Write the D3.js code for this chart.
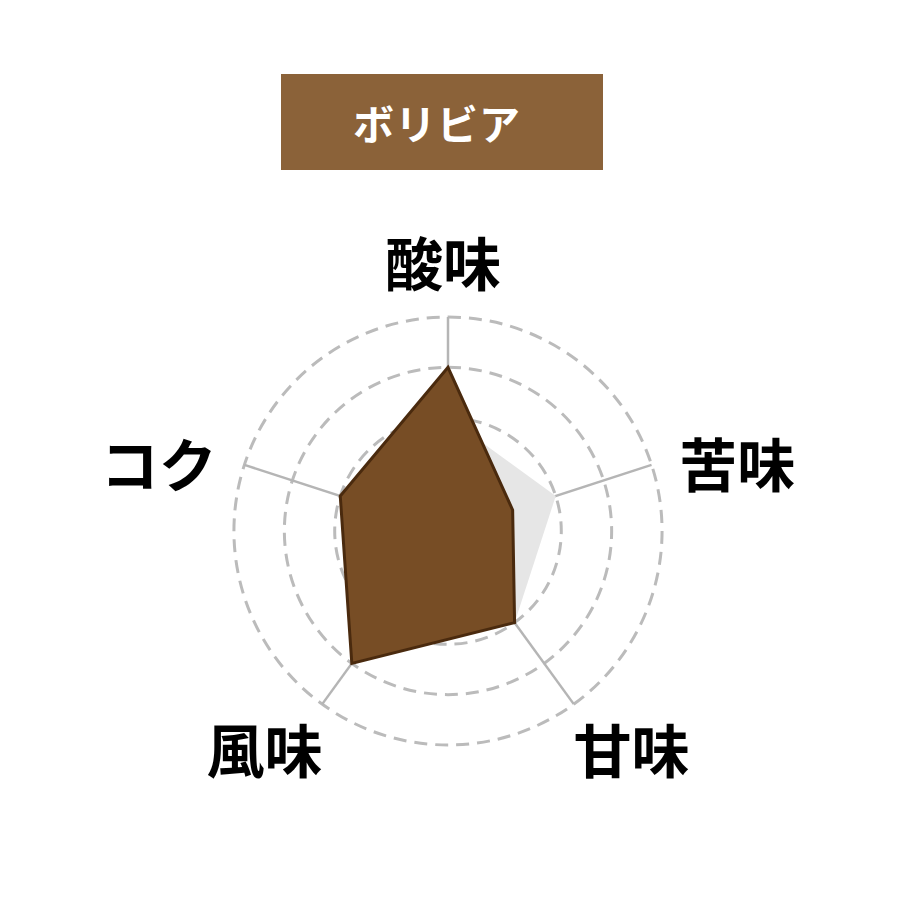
<!DOCTYPE html>
<html>
<head>
<meta charset="utf-8">
<script src="https://cdn.jsdelivr.net/npm/d3@7/dist/d3.min.js"></script>
<style>
  html, body { margin: 0; padding: 0; background: #ffffff; }
  svg { display: block; }
</style>
</head>
<body>
<svg id="chart" width="900" height="900"></svg>
<script>
// ---- data ----
const titleText = "ボリビア";
const categories = ["酸味", "苦味", "甘味", "風味", "コク"];
const boliviaValues = [4, 2.1, 3, 4, 3];
const averageValues = [3, 3, 3, 3, 3];
const ringLevels = [2, 3, 4, 5];
const scaleMin = 0.75;
const scaleMax = 5;

// ---- layout ----
const W = 900, H = 900;
const cx = 448, cy = 531, R = 214;
const svg = d3.select("#chart");
const font = "'Noto Sans CJK JP', 'Noto Sans', sans-serif";

const r = d3.scaleLinear().domain([scaleMin, scaleMax]).range([0, R]);
const step = 2 * Math.PI / categories.length;
const polar = (i, rad) => [cx + rad * Math.sin(i * step), cy - rad * Math.cos(i * step)];

// title box
const tb = { x: 281, y: 74, w: 322, h: 96 };
svg.append("rect")
  .attr("x", tb.x).attr("y", tb.y).attr("width", tb.w).attr("height", tb.h)
  .attr("fill", "#8b6239");
svg.append("text")
  .attr("x", tb.x + tb.w / 2 - 5).attr("y", tb.y + tb.h / 2)
  .attr("text-anchor", "middle").attr("dominant-baseline", "central")
  .attr("font-family", font).attr("font-weight", 700).attr("font-size", 41)
  .attr("letter-spacing", 1)
  .attr("fill", "#ffffff")
  .text(titleText);

const g = svg.append("g");

// rings (dashed circles starting at top, clockwise)
g.selectAll("path.ring").data(ringLevels).join("path")
  .attr("class", "ring")
  .attr("d", d => {
    const p = d3.path();
    const rr = r(d);
    p.moveTo(cx, cy - rr);
    p.arc(cx, cy, rr, -Math.PI / 2, 1.5 * Math.PI, false);
    return p.toString();
  })
  .attr("fill", "none")
  .attr("stroke", "#bbbbbb")
  .attr("stroke-width", 3)
  .attr("stroke-dasharray", "13,8");

// axis lines
g.selectAll("line.axis").data(categories).join("line")
  .attr("class", "axis")
  .attr("x1", cx).attr("y1", cy)
  .attr("x2", (d, i) => polar(i, r(scaleMax))[0])
  .attr("y2", (d, i) => polar(i, r(scaleMax))[1])
  .attr("stroke", "#b5b5b5")
  .attr("stroke-width", 2.5);

const radarLine = d3.lineRadial()
  .angle((d, i) => i * step)
  .radius(d => r(d))
  .curve(d3.curveLinearClosed);

// average polygon
g.append("path")
  .attr("transform", `translate(${cx},${cy})`)
  .attr("d", radarLine(averageValues))
  .attr("fill", "#e6e6e6")
  .attr("stroke", "none");

// bolivia polygon
g.append("path")
  .attr("transform", `translate(${cx},${cy})`)
  .attr("d", radarLine(boliviaValues))
  .attr("fill", "#774d25")
  .attr("stroke", "#4a2a0e")
  .attr("stroke-width", 3)
  .attr("stroke-linejoin", "miter");

// category labels
const labelH = 52;
const labelR = R + 8;
g.selectAll("text.cat").data(categories).join("text")
  .attr("class", "cat")
  .each(function (d, i) {
    const a = i * step;
    const s = Math.sin(a), c = Math.cos(a);
    const [px, py] = polar(i, labelR);
    let x = px, y = py, anchor = "middle";
    if (c > 0.9) {            // top
      x = px - 5; y = py - 22 - labelH / 2;
    } else if (Math.abs(c) < 0.5) { // sides
      anchor = s > 0 ? "start" : "end";
      x = px + (s > 0 ? 20 : -20); y = py;
    } else {                  // lower diagonals
      anchor = s > 0 ? "start" : "end";
      x = px + (s > 0 ? -5 : 5); y = py + 11 + labelH / 2;
    }
    d3.select(this)
      .attr("x", x).attr("y", y)
      .attr("text-anchor", anchor)
      .attr("dominant-baseline", "central");
  })
  .attr("font-family", font)
  .attr("font-weight", 700)
  .attr("font-size", 58)
  .attr("fill", "#000000")
  .text(d => d);
</script>
</body>
</html>
